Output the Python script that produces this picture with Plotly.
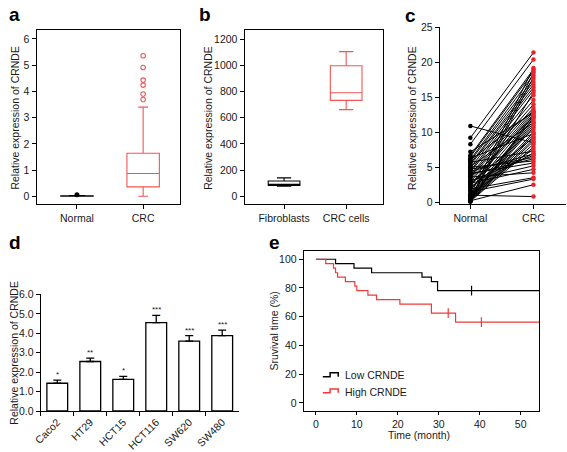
import plotly.graph_objects as go

W, H = 567, 452
def dx(px): return px / W
def dy(py): return 1 - py / H

FONT = "Liberation Sans, Arial, sans-serif"
RED_BOX = "#EF5656"
RED_DOT = "#E8262B"
RED_KM = "#F03A3A"

# ---------------- data ----------------
# panel a
a_groups = ["Normal", "CRC"]
a_q1 = [0.0, 0.36]
a_median = [0.005, 0.87]
a_q3 = [0.015, 1.64]
a_low = [0.0, 0.0]
a_high = [0.03, 3.40]
a_normal_outliers = [0.06]
a_crc_outliers = [3.69, 3.90, 4.24, 4.43, 4.91, 5.36]

# panel b
b_groups = ["Fibroblasts", "CRC cells"]
b_q1 = [84, 732]
b_median = [92, 791]
b_q3 = [117, 997]
b_low = [77, 662]
b_high = [141, 1104]

# panel c (paired samples)
c_normal = [10.9, 9.2, 8.3, 7.2, 6.7, 6.5, 6.3, 6.1, 5.9, 5.7,
            5.5, 5.3, 5.1, 4.9, 4.7, 4.5, 4.3, 4.1, 3.9, 3.7,
            3.5, 3.3, 3.1, 2.9, 2.7, 2.5, 2.3, 2.1, 1.9, 1.7,
            1.2, 1.0, 0.9, 0.8, 0.7, 0.6, 1.0, 0.5, 0.4, 0.4,
            0.3, 0.3, 0.2, 0.2, 0.1, 0.1, 0.8, 1.1, 0.6, 0.3,
            2.2, 3.0, 4.0, 5.0, 6.0, 2.6, 3.6, 4.4, 1.5, 0.15]
c_crc = [8.5, 21.4, 20.4, 12.8, 19.0, 18.7, 9.8, 18.2, 17.6, 7.3,
         17.2, 16.8, 11.4, 16.4, 6.4, 16.0, 15.3, 5.6, 14.6, 14.0,
         13.5, 12.2, 5.2, 13.2, 4.7, 12.9, 12.6, 9.2, 3.5, 12.3,
         11.9, 19.2, 11.6, 11.3, 11.0, 10.7, 0.8, 9.7, 18.5, 9.4,
         9.0, 8.7, 2.5, 8.3, 17.9, 7.9, 15.7, 7.6, 10.0, 12.1,
         7.0, 6.7, 6.2, 5.9, 13.0, 10.4, 4.2, 6.9, 3.3, 12.5]

# panel d
d_cells = ["Caco2", "HT29", "HCT15", "HCT116", "SW620", "SW480"]
d_values = [1.43, 2.55, 1.63, 4.55, 3.60, 3.88]
d_errors = [0.16, 0.17, 0.15, 0.37, 0.28, 0.28]
d_stars = ["*", "**", "*", "***", "***", "***"]

# panel e (Kaplan-Meier)
e_low_t = [0, 4.8, 9.3, 13.6, 25.9, 28.2, 29.7, 55]
e_low_s = [100, 96.9, 93.75, 90.6, 87.5, 84.4, 78.1, 78.1]
e_low_cens_t = [38.0]
e_low_cens_s = [78.1]
e_high_t = [0, 2.4, 4.3, 4.8, 5.3, 7.2, 9.5, 10.0, 12.7, 14.8, 20.5, 28.2, 34.1, 55]
e_high_s = [100, 96.9, 93.75, 90.6, 87.5, 84.4, 81.25, 78.1, 75.0, 71.9, 68.75, 62.5, 56.25, 56.25]
e_high_cens_t = [32.3, 40.4]
e_high_cens_s = [62.5, 56.25]

fig = go.Figure()

# ---------------- panel a ----------------
a_colors = ["black", RED_BOX]
a_ww = [0.5, 0.3]
for i in range(2):
    fig.add_trace(go.Box(x=[i], q1=[a_q1[i]], median=[a_median[i]], q3=[a_q3[i]],
                         lowerfence=[a_low[i]], upperfence=[a_high[i]],
                         width=0.49, whiskerwidth=a_ww[i], boxpoints=False,
                         line=dict(color=a_colors[i], width=1.1),
                         fillcolor="rgba(0,0,0,0)", xaxis="x", yaxis="y",
                         showlegend=False, hoverinfo="skip"))
fig.add_trace(go.Scatter(x=[0] * len(a_normal_outliers), y=a_normal_outliers, mode="markers",
                         marker=dict(color="black", size=5, symbol="circle"),
                         xaxis="x", yaxis="y", showlegend=False))
fig.add_trace(go.Scatter(x=[1] * len(a_crc_outliers), y=a_crc_outliers, mode="markers",
                         marker=dict(color=RED_BOX, size=4.5, symbol="circle-open",
                                     line=dict(color=RED_BOX, width=1.1)),
                         xaxis="x", yaxis="y", showlegend=False))

# ---------------- panel b ----------------
for i in range(2):
    fig.add_trace(go.Box(x=[i], q1=[b_q1[i]], median=[b_median[i]], q3=[b_q3[i]],
                         lowerfence=[b_low[i]], upperfence=[b_high[i]],
                         width=0.51, whiskerwidth=0.45, boxpoints=False,
                         line=dict(color=a_colors[i], width=1.1),
                         fillcolor="rgba(0,0,0,0)", xaxis="x2", yaxis="y2",
                         showlegend=False, hoverinfo="skip"))

# ---------------- panel c ----------------
lx, ly = [], []
for n, c in zip(c_normal, c_crc):
    lx += [0, 1, None]
    ly += [n, c, None]
fig.add_trace(go.Scatter(x=lx, y=ly, mode="lines", line=dict(color="black", width=1),
                         xaxis="x3", yaxis="y3", showlegend=False, hoverinfo="skip"))
fig.add_trace(go.Scatter(x=[0] * len(c_normal), y=c_normal, mode="markers",
                         marker=dict(color="black", size=4.5),
                         xaxis="x3", yaxis="y3", showlegend=False))
fig.add_trace(go.Scatter(x=[1] * len(c_crc), y=c_crc, mode="markers",
                         marker=dict(color=RED_DOT, size=4.5),
                         xaxis="x3", yaxis="y3", showlegend=False))

# ---------------- panel d ----------------
fig.add_trace(go.Bar(x=d_cells, y=d_values,
                     error_y=dict(type="data", array=d_errors, arrayminus=[0] * len(d_errors),
                                  symmetric=False, color="black", thickness=1.3, width=4),
                     marker=dict(color="white", line=dict(color="black", width=1.3)),
                     xaxis="x4", yaxis="y4", showlegend=False))

# ---------------- panel e ----------------
fig.add_trace(go.Scatter(x=e_low_t, y=e_low_s, mode="lines", line=dict(color="black", width=1.2, shape="hv"),
                         xaxis="x5", yaxis="y5", showlegend=False))
fig.add_trace(go.Scatter(x=e_high_t, y=e_high_s, mode="lines", line=dict(color=RED_KM, width=1.2, shape="hv"),
                         xaxis="x5", yaxis="y5", showlegend=False))
fig.add_trace(go.Scatter(x=e_low_cens_t, y=e_low_cens_s, mode="markers",
                         marker=dict(symbol="line-ns", size=7, line=dict(color="black", width=1.2)),
                         xaxis="x5", yaxis="y5", showlegend=False))
fig.add_trace(go.Scatter(x=e_high_cens_t, y=e_high_cens_s, mode="markers",
                         marker=dict(symbol="line-ns", size=7, line=dict(color=RED_KM, width=1.2)),
                         xaxis="x5", yaxis="y5", showlegend=False))

# ---------------- axes ----------------
tickfont = dict(family=FONT, size=10.5, color="#1a1a1a")
common = dict(showgrid=False, zeroline=False, showline=True, linecolor="black", linewidth=1.1,
              ticks="outside", tickwidth=1, tickcolor="black", tickfont=tickfont)

fig.update_layout(
    width=W, height=H, margin=dict(l=0, r=0, t=0, b=0),
    paper_bgcolor="white", plot_bgcolor="white", bargap=0.37,
    font=dict(family=FONT, color="#1a1a1a"),
    xaxis=dict(domain=[dx(29), dx(174)], range=[-0.61, 1.55], tickvals=[0, 1], ticktext=a_groups,
               mirror=True, anchor="y", ticklen=4, **common),
    yaxis=dict(domain=[dy(204), dy(25)], range=[-0.3, 6.33], tickvals=[0, 1, 2, 3, 4, 5, 6],
               mirror=True, anchor="x", ticklen=4, **common),
    xaxis2=dict(domain=[dx(240), dx(380)], range=[-0.635, 1.587], tickvals=[0, 1], ticktext=b_groups,
                mirror=True, anchor="y2", ticklen=4, **common),
    yaxis2=dict(domain=[dy(204), dy(25)], range=[-59, 1267], tickvals=[0, 200, 400, 600, 800, 1000, 1200],
                mirror=True, anchor="x2", ticklen=4, **common),
    xaxis3=dict(domain=[dx(438), dx(566)], range=[-0.484, 1.516], tickvals=[0, 1],
                ticktext=["Normal", "CRC"], anchor="y3", ticklen=4, **common),
    yaxis3=dict(domain=[dy(204), dy(22)], range=[-0.28, 25], tickvals=[0, 5, 10, 15, 20, 25],
                anchor="x3", ticklen=4, **common),
    xaxis4=dict(domain=[dx(33.25), dx(234)], range=[-0.5, 5.5], type="category",
                tickson="boundaries", tickangle=-45, anchor="y4", ticklen=4, **common),
    yaxis4=dict(domain=[dy(417), dy(297)], range=[0, 6], tickvals=[0, 1, 2, 3, 4, 5, 6],
                tickformat=".1f", anchor="x4", ticklen=4, **common),
    xaxis5=dict(domain=[dx(300), dx(539)], range=[-2.96, 54.56], tickvals=[0, 10, 20, 30, 40, 50],
                mirror=True, anchor="y5", ticklen=3, **common),
    yaxis5=dict(domain=[dy(417), dy(252.3)], range=[-5.6, 105.7], tickvals=[0, 20, 40, 60, 80, 100],
                mirror=True, anchor="x5", ticklen=4, **common),
)

ann = []
def label(text, x, y):
    ann.append(dict(text="<b>%s</b>" % text, x=dx(x), y=dy(y), xref="paper", yref="paper",
                    showarrow=False, xanchor="center", yanchor="middle",
                    font=dict(family=FONT, size=19, color="black")))
label("a", 7, 9)
label("b", 200, 9)
label("c", 408, 10)
label("d", 7, 244)
label("e", 270, 244)

def vtitle(text, x, y):
    ann.append(dict(text=text, x=dx(x), y=dy(y), xref="paper", yref="paper", textangle=-90,
                    showarrow=False, xanchor="center", yanchor="middle",
                    font=dict(family=FONT, size=10.5, color="#1a1a1a")))
vtitle("Relative expression of CRNDE", 7, 115)
vtitle("Relative expression of CRNDE", 203, 115)
vtitle("Relative expression of CRNDE", 409, 115)
vtitle("Relative expression of CRNDE", 6, 357)
vtitle("Sruvival time (%)", 270, 335)

ann.append(dict(text="Time (month)", x=dx(417), y=dy(442), xref="paper", yref="paper",
                showarrow=False, xanchor="center", yanchor="middle",
                font=dict(family=FONT, size=10.5, color="#1a1a1a")))

for cell, v, e, s in zip(d_cells, d_values, d_errors, d_stars):
    ann.append(dict(text=s, x=cell, y=v + e, xref="x4", yref="y4", showarrow=False,
                    xanchor="center", yanchor="bottom", yshift=-1,
                    font=dict(family=FONT, size=8, color="#1a1a1a")))

# legend of panel e
ann.append(dict(text="Low CRNDE", x=dx(340), y=dy(380), xref="paper", yref="paper", showarrow=False,
                xanchor="left", yanchor="middle", font=dict(family=FONT, size=10.5, color="#1a1a1a")))
ann.append(dict(text="High CRNDE", x=dx(340), y=dy(397), xref="paper", yref="paper", showarrow=False,
                xanchor="left", yanchor="middle", font=dict(family=FONT, size=10.5, color="#1a1a1a")))

def step_path(y_low, y_high):
    pts = [(319.3, y_low), (326.7, y_low), (326.7, y_high), (335, y_high), (335, y_low)]
    return "M " + " L ".join("%f,%f" % (dx(px), dy(py)) for px, py in pts)

shapes = [
    dict(type="path", path=step_path(381.7, 377.7), xref="paper", yref="paper",
         line=dict(color="black", width=1.5)),
    dict(type="path", path=step_path(398.3, 394.3), xref="paper", yref="paper",
         line=dict(color=RED_KM, width=1.5)),
]

fig.update_layout(annotations=ann, shapes=shapes)
fig.write_html("out.html", config={"displayModeBar": False},
               post_script="document.body.style.margin='0';document.body.style.overflow='hidden';")
